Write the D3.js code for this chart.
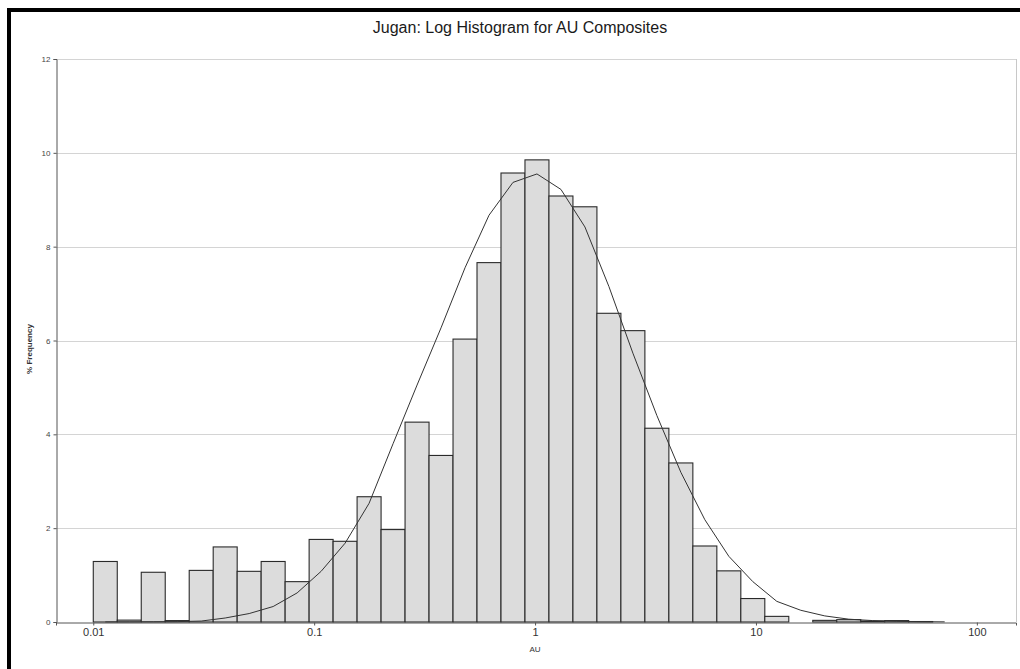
<!DOCTYPE html>
<html>
<head>
<meta charset="utf-8">
<script src="https://cdn.jsdelivr.net/npm/d3@7"></script>
<style>
  html, body { margin: 0; padding: 0; background: #ffffff; }
  svg { display: block; font-family: Arial, "Liberation Sans", sans-serif; }
</style>
</head>
<body>
<svg id="chart" width="1020" height="669"></svg>
<script>
// Log-binned histogram of AU composite grades (bins of 0.25 in ln units starting at 0.01)
const binStart = 0.01;
const binStepLn = 0.25;

// % frequency per bin
const binFreq = [1.29, 0.04, 1.06, 0.03, 1.10, 1.60, 1.08, 1.29, 0.86, 1.76,
                 1.72, 2.67, 1.97, 4.26, 3.55, 6.03, 7.66, 9.57, 9.85, 9.08,
                 8.85, 6.58, 6.21, 4.13, 3.39, 1.62, 1.09, 0.50, 0.12, 0.00,
                 0.035, 0.05, 0.02, 0.03, 0.01];

// fitted lognormal curve, % frequency at each bin centre
const fitFreq = [0.001, 0.002, 0.004, 0.008, 0.02, 0.085, 0.18, 0.33, 0.62, 1.08,
                 1.68, 2.53, 3.80, 5.05, 6.27, 7.55, 8.67, 9.37, 9.55, 9.22,
                 8.42, 7.15, 5.73, 4.40, 3.19, 2.18, 1.40, 0.86, 0.44, 0.25,
                 0.13, 0.06, 0.03, 0.015, 0.007, 0.003];

const xTicks = [0.01, 0.1, 1, 10, 100];
const xTickLabels = ["0.01", "0.1", "1", "10", "100"];
const yTicks = [0, 2, 4, 6, 8, 10, 12];

const svg = d3.select("#chart");

const plot = { left: 56, right: 1016, top: 59, bottom: 622 };

const x = d3.scaleLog().domain([0.00678, 150.4]).range([plot.left, plot.right]);
const y = d3.scaleLinear().domain([0, 12]).range([plot.bottom, plot.top]);

const edge = k => binStart * Math.exp(binStepLn * k);
const centre = k => binStart * Math.exp(binStepLn * (k + 0.5));

// outer frame (top and left heavy rules)
svg.append("rect").attr("x", 7).attr("y", 8).attr("width", 1013).attr("height", 4).attr("fill", "#000");
svg.append("rect").attr("x", 7).attr("y", 8).attr("width", 4).attr("height", 661).attr("fill", "#000");

// title
svg.append("text")
  .attr("x", 520).attr("y", 33)
  .attr("text-anchor", "middle")
  .attr("font-size", 16)
  .attr("fill", "#1a1a1a")
  .text("Jugan: Log Histogram for AU Composites");

// horizontal gridlines
svg.append("g").selectAll("line")
  .data(yTicks.filter(d => d > 0))
  .join("line")
  .attr("x1", plot.left).attr("x2", plot.right)
  .attr("y1", d => Math.round(y(d)) + 0.5).attr("y2", d => Math.round(y(d)) + 0.5)
  .attr("stroke", "#d4d4d4").attr("stroke-width", 1);

// right boundary of plot area
svg.append("line")
  .attr("x1", plot.right + 0.5).attr("x2", plot.right + 0.5)
  .attr("y1", plot.top).attr("y2", plot.bottom)
  .attr("stroke", "#c8c8c8");

// histogram bars
svg.append("g").selectAll("rect")
  .data(binFreq.map((v, k) => ({ k, v })).filter(d => d.v > 0))
  .join("rect")
  .attr("x", d => x(edge(d.k)))
  .attr("width", d => x(edge(d.k + 1)) - x(edge(d.k)))
  .attr("y", d => y(d.v))
  .attr("height", d => y(0) - y(d.v))
  .attr("fill", "#dcdcdc")
  .attr("stroke", "#2a2a2a")
  .attr("stroke-width", 1.1);

// fitted curve
const line = d3.line()
  .x(d => x(d.x))
  .y(d => y(d.v));
svg.append("path")
  .datum(fitFreq.map((v, k) => ({ x: centre(k), v })))
  .attr("d", line)
  .attr("fill", "none")
  .attr("stroke", "#333")
  .attr("stroke-width", 1);

// y axis
const yAxis = d3.axisLeft(y).tickValues(yTicks).tickSize(3).tickPadding(3).tickFormat(d3.format("d"));
const gy = svg.append("g").attr("transform", `translate(${plot.left + 0.5},0)`).call(yAxis);
gy.select(".domain").attr("stroke", "#555");
gy.selectAll(".tick line").attr("stroke", "#555");
gy.selectAll(".tick text").attr("font-size", 8).attr("fill", "#444").attr("font-family", "Arial, 'Liberation Sans', sans-serif");

// x axis
const xAxis = d3.axisBottom(x).tickValues(xTicks).tickSize(3).tickPadding(3)
  .tickFormat((d, i) => xTickLabels[i]);
const gx = svg.append("g").attr("transform", `translate(0,${plot.bottom + 0.5})`).call(xAxis);
gx.select(".domain").attr("stroke", "#555");
gx.selectAll(".tick line").attr("stroke", "#555");
gx.selectAll(".tick text").attr("font-size", 11).attr("fill", "#333").attr("font-family", "Arial, 'Liberation Sans', sans-serif");

// axis titles
svg.append("text")
  .attr("x", 535).attr("y", 652)
  .attr("text-anchor", "middle")
  .attr("font-size", 8)
  .attr("fill", "#333")
  .text("AU");

svg.append("text")
  .attr("transform", "translate(32,349) rotate(-90)")
  .attr("text-anchor", "middle")
  .attr("font-size", 8)
  .attr("font-weight", "bold")
  .attr("fill", "#333")
  .text("% Frequency");
</script>
</body>
</html>
